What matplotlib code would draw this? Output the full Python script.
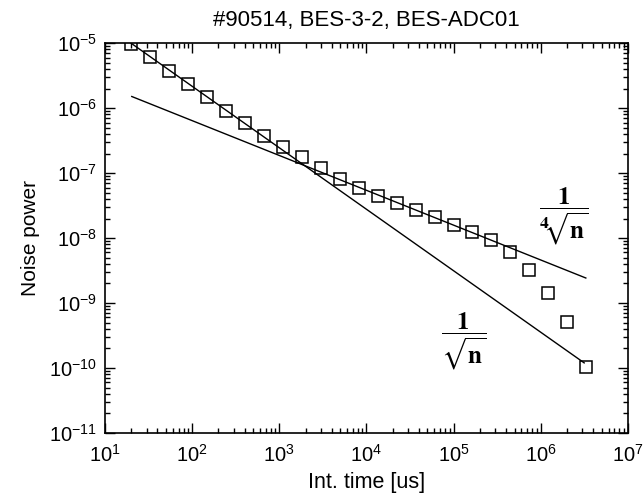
import matplotlib
matplotlib.use("Agg")
import matplotlib.pyplot as plt
import matplotlib.ticker as mticker

# ── Data ─────────────────────────────────────────────────────────────────────
int_time = [19.9, 33.2, 54.9, 90.6, 148.6, 246, 406, 667, 1091, 1803,
            2983, 4930, 8140, 13490, 22270, 36560, 60500, 100600,
            164000, 271000, 444000, 734000, 1.2e6, 1.99e6, 3.29e6]
noise_power = [9.66e-6, 6.09e-6, 3.75e-6, 2.34e-6, 1.46e-6, 9.18e-7,
               5.88e-7, 3.79e-7, 2.54e-7, 1.74e-7, 1.19e-7, 8.15e-8,
               6.0e-8, 4.52e-8, 3.47e-8, 2.74e-8, 2.14e-8, 1.61e-8,
               1.25e-8, 9.3e-9, 6.15e-9, 3.25e-9, 1.43e-9, 5.15e-10,
               1.02e-10]

# reference slopes (end points)
sqrt_line_x = [19.9, 3.15e6]
sqrt_line_y = [1.0e-5, 1.2e-10]
root4_line_x = [20.3, 3.29e6]
root4_line_y = [1.51e-6, 2.43e-9]

FONT = "Liberation Sans"
plt.rcParams["font.family"] = [FONT, "DejaVu Sans"]
plt.rcParams["mathtext.fontset"] = "custom"
plt.rcParams["mathtext.rm"] = FONT
plt.rcParams["mathtext.it"] = FONT
plt.rcParams["mathtext.bf"] = FONT

fig = plt.figure(figsize=(6.44, 4.96), dpi=100)
ax = fig.add_axes([0.163, 0.127, 0.812, 0.786])

ax.plot(int_time, noise_power, linestyle="none", marker="s", markersize=9,
        markerfacecolor="none", markeredgecolor="black", markeredgewidth=1.1)
ax.plot(sqrt_line_x, sqrt_line_y, color="black", linewidth=1.0)
ax.plot(root4_line_x, root4_line_y, color="black", linewidth=1.0)

ax.set_xscale("log")
ax.set_yscale("log")
ax.set_xlim(10, 1e7)
ax.set_ylim(1e-11, 1e-5)

ax.xaxis.set_major_locator(mticker.LogLocator(base=10, numticks=20))
ax.yaxis.set_major_locator(mticker.LogLocator(base=10, numticks=20))
ax.xaxis.set_minor_locator(mticker.LogLocator(base=10, subs=range(2, 10), numticks=20))
ax.yaxis.set_minor_locator(mticker.LogLocator(base=10, subs=range(2, 10), numticks=20))
ax.xaxis.set_minor_formatter(mticker.NullFormatter())
ax.yaxis.set_minor_formatter(mticker.NullFormatter())

ax.tick_params(which="both", direction="in", top=True, right=True,
               labelsize=14.5, width=1.0, colors="black")
ax.tick_params(which="major", length=7.5)
ax.tick_params(which="minor", length=3.8)
ax.tick_params(axis="x", which="major", pad=8)
ax.tick_params(axis="y", which="major", pad=6)
for sp in ax.spines.values():
    sp.set_linewidth(1.2)

ax.set_title("#90514, BES-3-2, BES-ADC01", fontsize=16, pad=12)
ax.set_xlabel("Int. time [us]", fontsize=15.5, labelpad=4)
ax.set_ylabel("Noise power", fontsize=15, labelpad=6)

# slope labels
ax.text(1.84e6, 2.18e-8, r"$\mathbf{\dfrac{1}{{}^{4}\!\!\sqrt{n}}}$",
        fontsize=18, math_fontfamily="stix", ha="center", va="center")
ax.text(1.30e5, 2.6e-10, r"$\mathbf{\dfrac{1}{\sqrt{n}}}$",
        fontsize=18, math_fontfamily="stix", ha="center", va="center")

plt.savefig("out.png", dpi=100, facecolor="white")
plt.close()
